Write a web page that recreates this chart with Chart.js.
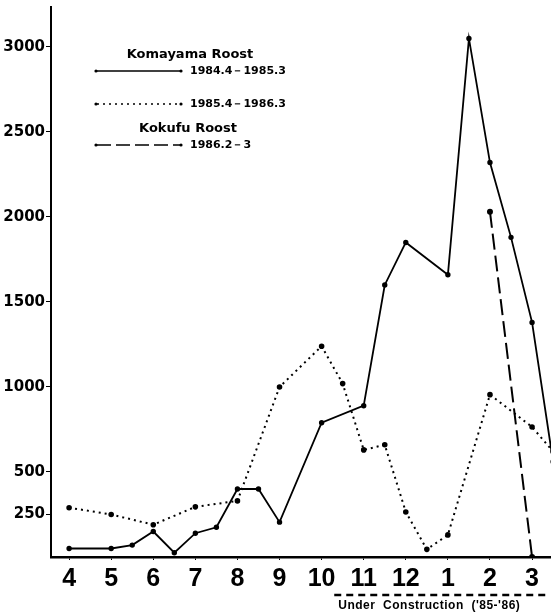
<!DOCTYPE html>
<html>
<head>
<meta charset="utf-8">
<script src="https://cdn.jsdelivr.net/npm/chart.js@4/dist/chart.umd.min.js"></script>
<style>
  html, body { margin: 0; padding: 0; background: #fff; }
  #wrap { width: 551px; height: 615px; position: relative; }
</style>
</head>
<body>
<div id="wrap"><canvas id="myChart"></canvas></div>
<script>
// months on the x axis (April .. March), placed at positions 4..15
const monthTicks = [4, 5, 6, 7, 8, 9, 10, 11, 12, 13, 14, 15];
const monthLabels = ['4', '5', '6', '7', '8', '9', '10', '11', '12', '1', '2', '3'];
const yTicks = [250, 500, 1000, 1500, 2000, 2500, 3000];

// Komayama Roost 1984.4 - 1985.3
const komaX8485 = [4, 5, 5.5, 6, 6.5, 7, 7.5, 8, 8.5, 9, 10, 11, 11.5, 12, 13, 13.5, 14, 14.5, 15, 15.5];
const komaY8485 = [50, 50, 70, 150, 25, 140, 175, 400, 400, 205, 790, 890, 1600, 1850, 1660, 3050, 2320, 1880, 1380, 560];

// Komayama Roost 1985.4 - 1986.3
const komaX8586 = [4, 5, 6, 7, 8, 9, 10, 10.5, 11, 11.5, 12, 12.5, 13, 14, 15, 15.5];
const komaY8586 = [290, 250, 190, 295, 330, 1000, 1240, 1020, 630, 660, 265, 45, 130, 955, 765, 620];

// Kokufu Roost 1986.2 - 3
const kokuX = [14, 15];
const kokuY = [2030, 0];

const pts = (xs, ys) => xs.map((x, i) => ({x: x, y: ys[i]}));

const legendAndNotes = {
  id: 'legendAndNotes',
  afterDraw(chart) {
    const ctx = chart.ctx;
    ctx.save();
    ctx.fillStyle = '#000';
    ctx.strokeStyle = '#000';

    ctx.font = 'bold 13px "DejaVu Sans"';
    ctx.textAlign = 'center';
    ctx.textBaseline = 'middle';
    ctx.fillText('Komayama Roost', 190, 55);
    ctx.fillText('Kokufu Roost', 188, 129);

    const drawKey = (y, dash, label) => {
      ctx.lineWidth = 1.5;
      ctx.setLineDash(dash);
      ctx.beginPath();
      ctx.moveTo(97, y);
      ctx.lineTo(180, y);
      ctx.stroke();
      ctx.setLineDash([]);
      ctx.beginPath();
      ctx.arc(96, y, 1.6, 0, Math.PI * 2);
      ctx.arc(181, y, 1.6, 0, Math.PI * 2);
      ctx.fill();
      ctx.font = 'bold 11px "DejaVu Sans"';
      ctx.textAlign = 'left';
      ctx.fillText(label, 190, y);
    };
    drawKey(71, [], '1984.4－1985.3');
    drawKey(104, [2, 4], '1985.4－1986.3');
    drawKey(145, [14, 5], '1986.2－3');

    // under construction note
    const xs = chart.scales.x;
    const x0 = xs.getPixelForValue(10.3);
    ctx.lineWidth = 2.5;
    ctx.setLineDash([7, 5]);
    ctx.beginPath();
    ctx.moveTo(x0, 595);
    ctx.lineTo(chart.width - 2, 595);
    ctx.stroke();
    ctx.setLineDash([]);
    ctx.font = 'bold 12px "Liberation Sans"';
    ctx.letterSpacing = '0.5px';
    ctx.textAlign = 'left';
    ctx.fillText("Under  Construction  ('85-'86)", x0 + 4, 606);
    ctx.restore();
  }
};

const ctx = document.getElementById('myChart').getContext('2d');
const myChart = new Chart(ctx, {
  type: 'line',
  data: {
    datasets: [
      {
        label: 'Komayama Roost 1984.4-1985.3',
        data: pts(komaX8485, komaY8485),
        borderColor: '#000',
        backgroundColor: '#000',
        borderWidth: 1.8,
        pointRadius: 1.8,
        tension: 0
      },
      {
        label: 'Komayama Roost 1985.4-1986.3',
        data: pts(komaX8586, komaY8586),
        borderColor: '#000',
        backgroundColor: '#000',
        borderWidth: 2,
        borderDash: [2, 4],
        pointRadius: 1.8,
        tension: 0
      },
      {
        label: 'Kokufu Roost 1986.2-3',
        data: pts(kokuX, kokuY),
        borderColor: '#000',
        backgroundColor: '#000',
        borderWidth: 2,
        borderDash: [16, 6],
        pointRadius: 2,
        tension: 0
      }
    ]
  },
  options: {
    responsive: true,
    maintainAspectRatio: false,
    animation: false,
    layout: { autoPadding: false, padding: { top: 7, right: 0, left: 0, bottom: 0 } },
    plugins: {
      legend: { display: false },
      tooltip: { enabled: false }
    },
    scales: {
      x: {
        type: 'linear',
        min: 3.57,
        max: 15.45,
        afterBuildTicks: (s) => { s.ticks = monthTicks.map(v => ({value: v})); },
        afterFit: (s) => { s.height = 58; s.paddingLeft = 0; s.paddingRight = 0; },
        ticks: {
          autoSkip: false,
          maxRotation: 0,
          padding: 4,
          color: '#000',
          font: { family: 'Liberation Sans', size: 25, weight: 'bold' },
          callback: (v) => monthLabels[monthTicks.indexOf(v)]
        },
        grid: { drawOnChartArea: false, drawTicks: true, tickLength: 3, color: '#000' },
        border: { display: true, color: '#000', width: 2.5 }
      },
      y: {
        min: 0,
        max: 3235,
        afterBuildTicks: (s) => { s.ticks = yTicks.map(v => ({value: v})); },
        afterFit: (s) => { s.width = 51; s.paddingTop = 0; s.paddingBottom = 0; },
        ticks: {
          padding: 1,
          color: '#000',
          font: { family: 'DejaVu Sans', size: 15, weight: 'bold' },
          callback: (v) => String(v)
        },
        grid: { drawOnChartArea: false, drawTicks: true, tickLength: 5, color: '#000' },
        border: { display: true, color: '#000', width: 2 }
      }
    }
  },
  plugins: [legendAndNotes]
});
</script>
</body>
</html>
